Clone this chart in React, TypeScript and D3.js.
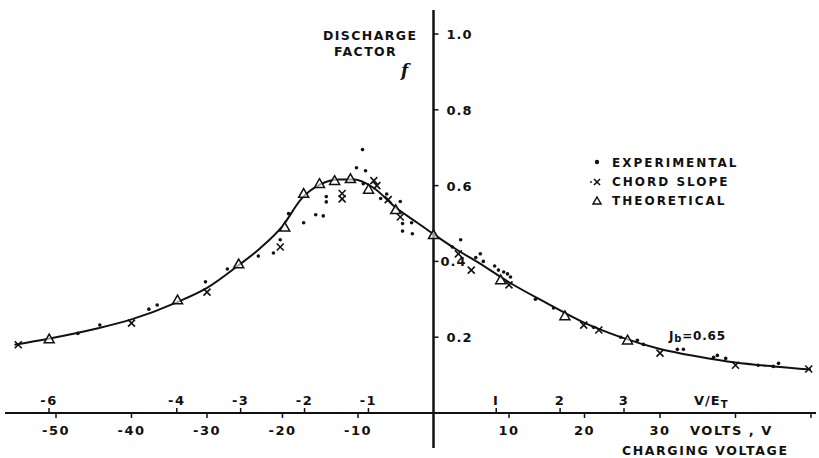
import React from "react";
import { scaleLinear, line, curveMonotoneX } from "d3";

// values: V in volts, f = discharge factor
const curve: [number, number][] = [
  [-55.5, 0.18], [-51, 0.196], [-45, 0.221], [-40, 0.247], [-34, 0.292],
  [-30, 0.33], [-26, 0.387], [-23, 0.434], [-20, 0.493], [-17.5, 0.565],
  [-15, 0.603], [-12.5, 0.616], [-10.5, 0.616], [-8, 0.595], [-5, 0.542],
  [-2, 0.5], [0, 0.472], [3, 0.432], [6, 0.396], [10, 0.345], [15, 0.29],
  [20, 0.238], [25, 0.199], [30, 0.169], [35, 0.149], [40, 0.133],
  [45, 0.123], [50, 0.115],
];

const experimental: [number, number][] = [
  [-47.1, 0.21], [-44.2, 0.232], [-37.7, 0.274], [-36.6, 0.285], [-30.2, 0.346],
  [-27.3, 0.38], [-23.2, 0.414], [-21.2, 0.422], [-20.3, 0.457], [-19.2, 0.526],
  [-17.2, 0.502], [-15.6, 0.523], [-14.6, 0.52], [-14.2, 0.571], [-14.2, 0.557],
  [-10.2, 0.647], [-9, 0.639], [-9.4, 0.695], [-9.3, 0.605], [-7, 0.566],
  [-6.2, 0.578], [-4.4, 0.558], [-4.1, 0.5], [-2.9, 0.502], [-4.1, 0.48],
  [-2.8, 0.473], [2.5, 0.438], [3.6, 0.457], [5.6, 0.41], [6.2, 0.42],
  [6.6, 0.4], [8.1, 0.388], [8.6, 0.377], [9.3, 0.372], [9.8, 0.367],
  [10.2, 0.359], [13.5, 0.3], [15.9, 0.277], [21.2, 0.226], [24.8, 0.2],
  [27, 0.192], [27.8, 0.181], [32.3, 0.168], [33.1, 0.168], [37.1, 0.147],
  [37.6, 0.152], [38.7, 0.144], [43, 0.126], [45, 0.123], [45.7, 0.131],
];

const chordSlope: [number, number][] = [
  [-55, 0.18], [-40, 0.237], [-30, 0.319], [-20.3, 0.438], [-12.1, 0.579],
  [-12.1, 0.565], [-7.9, 0.613], [-7.5, 0.6], [-6, 0.563], [-4.4, 0.517],
  [3.3, 0.42], [5, 0.377], [10, 0.338], [19.9, 0.232], [21.9, 0.219],
  [30, 0.158], [40, 0.126], [49.7, 0.116],
];

const theoretical: [number, number][] = [
  [-50.9, 0.195], [-33.9, 0.298], [-25.8, 0.393], [-19.7, 0.49], [-17.2, 0.579],
  [-15.1, 0.605], [-13.1, 0.613], [-11, 0.618], [-8.6, 0.59], [-5, 0.536],
  [0, 0.47], [8.9, 0.351], [17.4, 0.256], [25.7, 0.192],
];

const voltTicks = [-50, -40, -30, -20, -10, 10, 20, 30, 40, 50];
const voltLabels = [-50, -40, -30, -20, -10, 10, 20, 30];
const ratioTicks = [-6, -4, -3, -2, -1, 1, 2, 3];
const fTicks = [0.2, 0.4, 0.6, 0.8, 1.0];

const legendItems = ["EXPERIMENTAL", "CHORD SLOPE", "THEORETICAL"];

const font = "'DejaVu Sans', sans-serif";

export default function App() {
  const W = 819, H = 458;
  const x = scaleLinear().domain([-50, 50]).range([56, 811]);
  const xr = scaleLinear().domain([-6, 3]).range([49, 624]);
  const y = scaleLinear().domain([0, 1]).range([413, 34]);
  const x0 = x(0);
  const y0 = y(0);

  const path = line<[number, number]>()
    .x((d) => x(d[0]))
    .y((d) => y(d[1]))
    .curve(curveMonotoneX)(curve);

  const tri = (cx: number, cy: number, s = 5) =>
    `M${cx},${cy - s}L${cx + s},${cy + s * 0.75}L${cx - s},${cy + s * 0.75}Z`;
  const cross = (cx: number, cy: number, s = 3.5) =>
    `M${cx - s},${cy - s}L${cx + s},${cy + s}M${cx + s},${cy - s}L${cx - s},${cy + s}`;

  const txt = { fontFamily: font, fontWeight: 700, fill: "#111" } as const;

  return (
    <svg
      width={W}
      height={H}
      style={{ position: "fixed", left: 0, top: 0, background: "#fff" }}
    >
      {/* axes */}
      <line x1={5} x2={816} y1={y0} y2={y0} stroke="#111" strokeWidth={2} />
      <line x1={x0} x2={x0} y1={10} y2={448} stroke="#111" strokeWidth={2.5} />

      {voltTicks.map((v) => (
        <line key={"vt" + v} x1={x(v)} x2={x(v)} y1={y0} y2={y0 + 5} stroke="#111" strokeWidth={1.5} />
      ))}
      {voltLabels.map((v) => (
        <text key={"vl" + v} x={x(v)} y={435} textAnchor="middle" fontSize={13} letterSpacing={1.5} {...txt}>
          {v}
        </text>
      ))}
      {ratioTicks.map((r) => (
        <line key={"rt" + r} x1={xr(r)} x2={xr(r)} y1={y0} y2={y0 - 5} stroke="#111" strokeWidth={1.5} />
      ))}
      {ratioTicks.map((r) => (
        <text key={"rl" + r} x={xr(r)} y={405} textAnchor="middle" fontSize={13} letterSpacing={1.5} {...txt}>
          {r === 1 ? "I" : r}
        </text>
      ))}
      <text x={694} y={405} fontSize={13} letterSpacing={1} {...txt}>
        V/E<tspan fontSize={10} dy={3}>T</tspan>
      </text>
      <text x={690} y={435} fontSize={13} letterSpacing={1.5} {...txt}>VOLTS , V</text>
      <text x={622} y={455} fontSize={12.5} letterSpacing={1.6} {...txt}>CHARGING VOLTAGE</text>

      {fTicks.map((f) => (
        <g key={"ft" + f}>
          <line x1={x0} x2={x0 + 5} y1={y(f)} y2={y(f)} stroke="#111" strokeWidth={1.5} />
          <text x={f === 0.4 ? x0 + 7 : x0 + 13} y={y(f) + 5} fontSize={13} letterSpacing={1} {...txt}>
            {f.toFixed(1)}
          </text>
        </g>
      ))}
      <text x={323} y={40} fontSize={12.5} letterSpacing={1.4} {...txt}>DISCHARGE</text>
      <text x={334} y={56} fontSize={12.5} letterSpacing={1.4} {...txt}>FACTOR</text>
      <text x={401} y={76} fontSize={17} fontStyle="italic" fontFamily="'DejaVu Serif', serif" fontWeight={700} fill="#111">
        f
      </text>

      {/* curve */}
      <path d={path ?? ""} fill="none" stroke="#111" strokeWidth={2} />

      {/* markers */}
      {experimental.map((d, i) => (
        <circle key={"e" + i} cx={x(d[0])} cy={y(d[1])} r={1.8} fill="#111" />
      ))}
      {chordSlope.map((d, i) => (
        <path key={"c" + i} d={cross(x(d[0]), y(d[1]))} stroke="#111" strokeWidth={1.6} fill="none" />
      ))}
      {theoretical.map((d, i) => (
        <path key={"t" + i} d={tri(x(d[0]), y(d[1]))} stroke="#111" strokeWidth={1.5} fill="#fff" fillOpacity={0.6} />
      ))}

      {/* legend */}
      <circle cx={597} cy={162} r={2.2} fill="#111" />
      <circle cx={591} cy={182} r={0.9} fill="#111" />
      <path d={cross(597, 182, 3)} stroke="#111" strokeWidth={1.6} fill="none" />
      <path d={tri(597, 201, 4)} stroke="#111" strokeWidth={1.5} fill="none" />
      {legendItems.map((t, i) => (
        <text key={t} x={612} y={167 + i * 19} fontSize={12} letterSpacing={2} {...txt}>
          {t}
        </text>
      ))}

      <text x={669} y={340} fontSize={12} letterSpacing={0.8} {...txt}>
        J<tspan fontSize={10} dy={2}>b</tspan><tspan dy={-2}>=0.65</tspan>
      </text>
    </svg>
  );
}
